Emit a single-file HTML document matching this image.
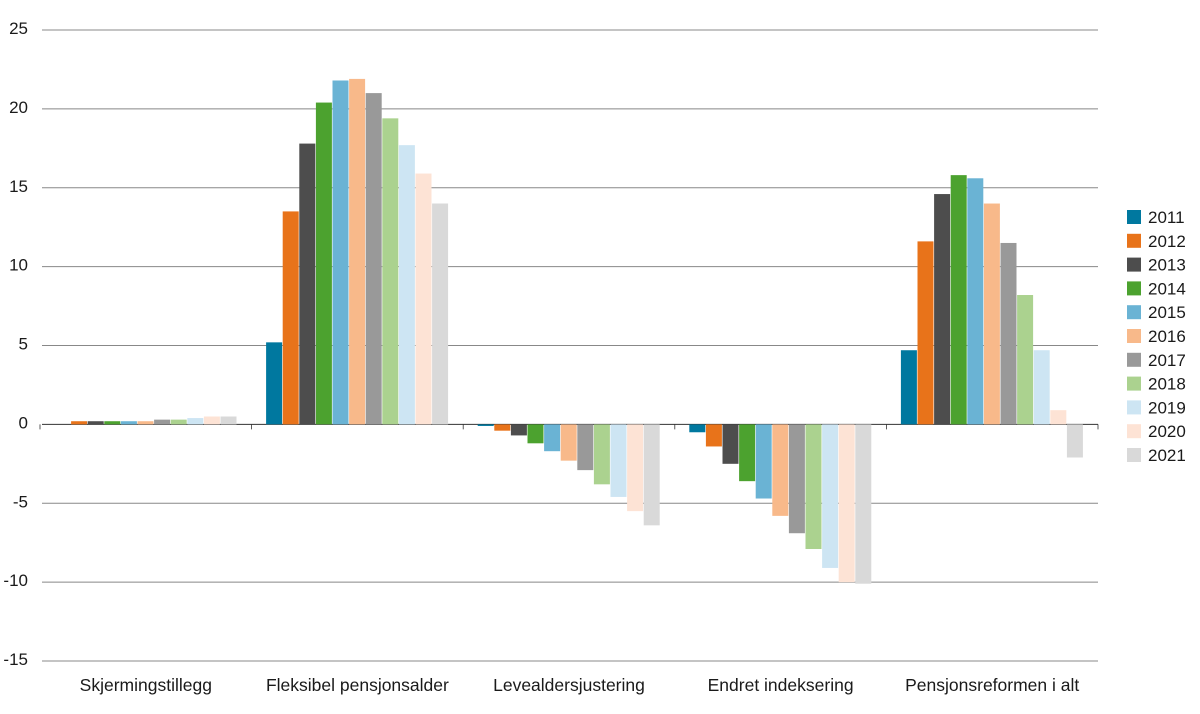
<!DOCTYPE html>
<html><head><meta charset="utf-8"><style>
body{margin:0;background:#fff;font-family:"Liberation Sans",sans-serif;}
svg text{font-family:"Liberation Sans",sans-serif;fill:#1a1a1a;}
</style></head><body>
<svg id="chart" width="1200" height="709"></svg>
<script>
const categories=["Skjermingstillegg","Fleksibel pensjonsalder","Levealdersjustering","Endret indeksering","Pensjonsreformen i alt"];
const years=["2011","2012","2013","2014","2015","2016","2017","2018","2019","2020","2021"];
const colors=["#00789f","#e8731a","#4d4d4d","#4ca22f","#6ab3d4","#f8b98a","#999999","#abd28f","#cde5f3","#fde3d5","#d9d9d9"];
const skjerming=[0,0.2,0.2,0.2,0.2,0.2,0.3,0.3,0.4,0.5,0.5];
const fleksibel=[5.2,13.5,17.8,20.4,21.8,21.9,21.0,19.4,17.7,15.9,14.0];
const levealder=[-0.1,-0.4,-0.7,-1.2,-1.7,-2.3,-2.9,-3.8,-4.6,-5.5,-6.4];
const indeksering=[-0.5,-1.4,-2.5,-3.6,-4.7,-5.8,-6.9,-7.9,-9.1,-10.0,-10.1];
const ialt=[4.7,11.6,14.6,15.8,15.6,14.0,11.5,8.2,4.7,0.9,-2.1];
const series=[skjerming,fleksibel,levealder,indeksering,ialt];
const yTicks=[25,20,15,10,5,0,-5,-10,-15];
const NS="http://www.w3.org/2000/svg";
const svg=document.getElementById('chart');
const x0=40,x1=1098,yTop=30,yBot=661,vMax=25,vMin=-15;
const y=v=>yTop+(vMax-v)*(yBot-yTop)/(vMax-vMin);
const gw=(x1-x0)/categories.length;
const bw=16.6;
function mk(t,a){const e=document.createElementNS(NS,t);for(const k in a)e.setAttribute(k,a[k]);svg.appendChild(e);return e;}
yTicks.forEach(t=>{
 const l=mk('line',{x1:42,x2:x1,y1:y(t),y2:y(t),stroke:t===0?'#333':'#888','stroke-width':t===0?1:0.9});
 
 
 const tx=mk('text',{x:28,y:y(t)+4,'font-size':17,'text-anchor':'end'});
 tx.textContent=t;
 
 
});
for(let i=0;i<=categories.length;i++){
 const tk=mk('line',{x1:x0+i*gw,x2:x0+i*gw,y1:y(0),y2:y(0)+5,stroke:'#333','stroke-width':0.8});
 
 
}
categories.forEach((c,ci)=>{
 const gs=x0+ci*gw+(gw-bw*years.length)/2;
 series[ci].forEach((v,yi)=>{
  const top=Math.min(y(v),y(0)),h=Math.abs(y(v)-y(0));
  const r=mk('rect',{x:gs+yi*bw,y:top,width:bw-0.6,height:h,fill:colors[yi]});
  
  
 });
 const t=mk('text',{x:x0+ci*gw+gw/2,y:691,'font-size':17.5,'text-anchor':'middle'});
 t.textContent=c;
 
 
});
years.forEach((yr,i)=>{
 const ly=210+i*23.8;
 const s=mk('rect',{x:1127,y:ly,width:14,height:14,fill:colors[i]});
 
 
 const t=mk('text',{x:1148,y:ly+13,'font-size':17});
 t.textContent=yr;
 
 
});
</script>
</body></html>
